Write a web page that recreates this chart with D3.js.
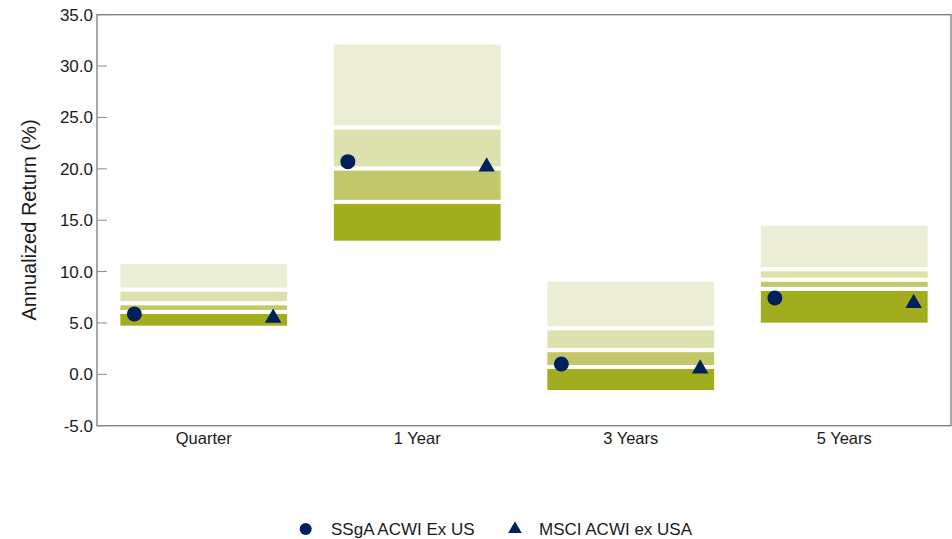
<!DOCTYPE html>
<html>
<head>
<meta charset="utf-8">
<script src="https://cdn.jsdelivr.net/npm/d3@7"></script>
<style>
  html, body { margin: 0; padding: 0; background: #fff; }
  svg { display: block; font-family: "Liberation Sans", Arial, sans-serif; }
</style>
</head>
<body>
<svg id="chart" width="952" height="539"></svg>
<script>
// ---- Data ----
const categories = ["Quarter", "1 Year", "3 Years", "5 Years"];
// Universe percentile bands: 5th, 25th, median, 75th, 95th (%)
const p5  = [4.54, 12.81, -1.72, 4.83];
const p25 = [6.07, 16.78, 0.71, 8.31];
const p50 = [6.91, 20.02, 2.35, 9.20];
const p75 = [8.23, 24.01, 4.48, 10.22];
const p95 = [10.93, 32.29, 9.21, 14.66];
const seriesNames = ["SSgA ACWI Ex US", "MSCI ACWI ex USA"];
const ssgaValues = [5.87, 20.70, 1.00, 7.43];
const msciValues = [5.49, 20.21, 0.54, 6.92];
const yTicks = [-5, 0, 5, 10, 15, 20, 25, 30, 35];
const yTickLabels = ["-5.0", "0.0", "5.0", "10.0", "15.0", "20.0", "25.0", "30.0", "35.0"];
const yTitle = "Annualized Return (%)";

// ---- Layout ----
const svg = d3.select("#chart");
const L = 97, R = 951, T = 14.7, B = 425.7;
const navy = "#00205B";
const bandColors = ["#EBEED4", "#DDE1AD", "#C2C86A", "#A2AC1F"];
const textColor = "#1a1a1a";

const x = d3.scaleBand().domain(categories).range([L, R]).paddingInner(0.2).paddingOuter(0.1);
const y = d3.scaleLinear().domain([-5, 35]).range([B, T]);

// bands
const bandData = [];
categories.forEach((c, i) => {
  const edges = [p95[i], p75[i], p50[i], p25[i], p5[i]];
  for (let k = 0; k < 4; k++) {
    bandData.push({ cat: c, hi: edges[k], lo: edges[k + 1], k });
  }
});
svg.append("g").selectAll("rect").data(bandData).join("rect")
  .attr("x", d => x(d.cat))
  .attr("width", x.bandwidth())
  .attr("y", d => y(d.hi))
  .attr("height", d => y(d.lo) - y(d.hi))
  .attr("fill", d => bandColors[d.k])
  .attr("stroke", "#fff")
  .attr("stroke-width", 4);

// frame
svg.append("rect")
  .attr("x", L).attr("y", T).attr("width", R - L).attr("height", B - T)
  .attr("fill", "none").attr("stroke", "#777").attr("stroke-width", 1.3);

// y axis
const yAxis = d3.axisLeft(y).tickValues(yTicks)
  .tickFormat((d, i) => yTickLabels[i]).tickSize(0).tickPadding(4);
const gy = svg.append("g").attr("transform", `translate(${L},0)`).call(yAxis);
gy.select(".domain").remove();
gy.selectAll("text").attr("font-size", "17px").attr("fill", textColor)
  .attr("font-family", "Liberation Sans, Arial, sans-serif");
// inward tick marks
svg.append("g").selectAll("line").data(yTicks).join("line")
  .attr("x1", L).attr("x2", L + 10)
  .attr("y1", d => y(d)).attr("y2", d => y(d))
  .attr("stroke", "#888").attr("stroke-width", 1);

// x axis labels
const xAxis = d3.axisBottom(x).tickSize(0).tickPadding(0);
const gx = svg.append("g").attr("transform", `translate(0,${B})`).call(xAxis);
gx.select(".domain").remove();
gx.selectAll("text").attr("font-size", "16.5px").attr("fill", textColor)
  .attr("font-family", "Liberation Sans, Arial, sans-serif")
  .attr("dy", null).attr("y", 18.5);

// y title
svg.append("text")
  .attr("transform", `translate(36,${(116.7 + 323.3) / 2}) rotate(-90)`)
  .attr("text-anchor", "middle")
  .attr("font-size", "20px").attr("fill", textColor)
  .text(yTitle);

// markers
const off = x.bandwidth() / 2 - 16;
svg.append("g").selectAll("circle").data(categories).join("circle")
  .attr("cx", (c) => x(c) + x.bandwidth() / 2 - off)
  .attr("cy", (c, i) => y(ssgaValues[i]))
  .attr("r", 7.5)
  .attr("fill", navy);
const tri = d3.symbol().type(d3.symbolTriangle).size(118);
svg.append("g").selectAll("path").data(categories).join("path")
  .attr("d", tri)
  .attr("transform", (c, i) => `translate(${x(c) + x.bandwidth() / 2 + off},${y(msciValues[i])})`)
  .attr("fill", navy);

// legend
const lg = svg.append("g");
lg.append("circle").attr("cx", 305.7).attr("cy", 529).attr("r", 6).attr("fill", navy);
lg.append("text").attr("x", 331).attr("y", 535).attr("font-size", "17px").attr("fill", textColor).text(seriesNames[0]);
lg.append("path").attr("d", d3.symbol().type(d3.symbolTriangle).size(80)())
  .attr("transform", "translate(515,529)").attr("fill", navy);
lg.append("text").attr("x", 539).attr("y", 535).attr("font-size", "17px").attr("fill", textColor).text(seriesNames[1]);
</script>
</body>
</html>
